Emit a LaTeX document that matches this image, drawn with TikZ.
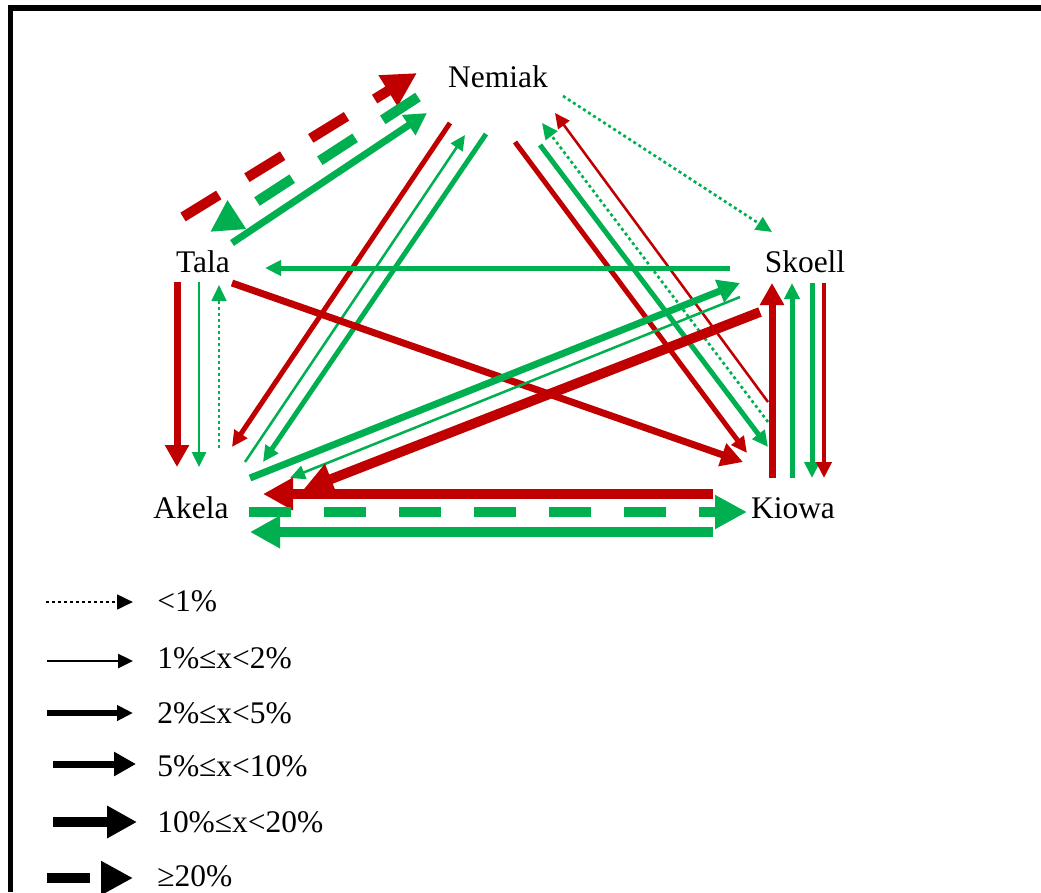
\documentclass[tikz,border=0pt]{standalone}
\usepackage{fontspec}
\setmainfont{Liberation Serif}
\usetikzlibrary{arrows.meta}
\definecolor{rd}{HTML}{C00000}
\definecolor{gn}{HTML}{00B050}
\begin{document}
\begin{tikzpicture}[x=0.75pt,y=-0.75pt,
  lbl/.style={inner sep=0pt, anchor=base, font=\fontsize{23.6pt}{28pt}\selectfont},
  leg/.style={inner sep=0pt, anchor=base west, font=\fontsize{23.6pt}{28pt}\selectfont},
  cdot/.style={line width=2pt, dash pattern=on 2.25pt off 2.25pt, -{Triangle[length=12pt,width=11pt]}},
  cone/.style={line width=1.9pt, -{Triangle[length=11.25pt,width=10.5pt]}},
  ctwo/.style={line width=3.75pt, -{Triangle[length=12pt,width=11.25pt]}},
  cthree/.style={line width=5.25pt, -{Triangle[length=16.5pt,width=17.25pt]}},
  cfour/.style={line width=7.4pt, -{Triangle[length=22.5pt,width=23pt]}},
  cfive/.style={line width=7.6pt, dash pattern=on 31.5pt off 24.75pt, -{Triangle[length=24pt,width=24pt]}},
  frame/.style={line width=4.3pt, black}
]
\useasboundingbox (0,0) rectangle (1041,892);
\draw[frame] (10.5,892) -- (10.5,8) -- (1041,8);

% nodes
\node[lbl] (N) at (498,88) {Nemiak};
\node[lbl] (T) at (203,272) {Tala};
\node[lbl] (S) at (805,272) {Skoell};
\node[lbl] (A) at (191,518) {Akela};
\node[lbl] (K) at (793,518) {Kiowa};

% Tala - Nemiak
\draw[rd,cfive,-{Triangle[length=25.5pt,width=25.5pt]}] ([shift={(-20,-55)}]T.base) -- ([shift={(-81,-15)}]N.base);
\draw[gn,cfive] ([shift={(-80,9)}]N.base) -- ([shift={(7,-40)}]T.base);
\draw[gn,cthree] ([shift={(29,-29)}]T.base) -- ([shift={(-71,25)}]N.base);
% Nemiak - Akela
\draw[rd,ctwo] ([shift={(-48,35)}]N.base) -- ([shift={(41,-71)}]A.base);
\draw[gn,cone] ([shift={(54,-56)}]A.base) -- ([shift={(-33,47)}]N.base);
\draw[gn,ctwo] ([shift={(-12,46)}]N.base) -- ([shift={(72,-56)}]A.base);
% Nemiak - Skoell
\draw[gn,cdot] ([shift={(65,8)}]N.base) -- ([shift={(-33,-40)}]S.base);
% Nemiak - Kiowa
\draw[rd,ctwo] ([shift={(17,54)}]N.base) -- ([shift={(-46,-65)}]K.base);
\draw[gn,ctwo] ([shift={(42,57)}]N.base) -- ([shift={(-25,-71)}]K.base);
\draw[gn,cdot] ([shift={(-25,-96)}]K.base) -- ([shift={(44,35)}]N.base);
\draw[rd,cone] ([shift={(-25,-116)}]K.base) -- ([shift={(57,25)}]N.base);
% Skoell - Kiowa
\draw[rd,cthree] ([shift={(-21,-40)}]K.base) -- ([shift={(-33,11)}]S.base);
\draw[gn,ctwo] ([shift={(-1,-40)}]K.base) -- ([shift={(-13,11)}]S.base);
\draw[gn,ctwo] ([shift={(7,11)}]S.base) -- ([shift={(19,-40)}]K.base);
\draw[rd,ctwo,line width=3pt] ([shift={(19,11)}]S.base) -- ([shift={(31,-40)}]K.base);
% Skoell - Tala
\draw[gn,ctwo] ([shift={(-75,-4)}]S.base) -- ([shift={(62,-4)}]T.base);
% Tala - Kiowa
\draw[rd,cthree] ([shift={(29,11)}]T.base) -- ([shift={(-50,-56)}]K.base);
% Akela - Skoell
\draw[gn,cthree] ([shift={(59,-40)}]A.base) -- ([shift={(-65,11)}]S.base);
\draw[gn,cone] ([shift={(-65,25)}]S.base) -- ([shift={(99,-40)}]A.base);
\draw[rd,cfour] ([shift={(-45,40)}]S.base) -- ([shift={(112,-28)}]A.base);
% Akela - Kiowa
\draw[rd,cfour] ([shift={(-80,-24)}]K.base) -- ([shift={(72,-24)}]A.base);
\draw[gn,cfive] ([shift={(58,-6)}]A.base) -- ([shift={(-46,-6)}]K.base);
\draw[gn,cfour] ([shift={(-80,14)}]K.base) -- ([shift={(59,14)}]A.base);
% Tala - Akela
\draw[rd,cthree] ([shift={(-26,10)}]T.base) -- ([shift={(-14,-51)}]A.base);
\draw[gn,cone] ([shift={(-4,10)}]T.base) -- ([shift={(8,-51)}]A.base);
\draw[gn,cdot] ([shift={(28,-70)}]A.base) -- ([shift={(16,13)}]T.base);

% legend
\node[leg] (L1) at (157,611) {<1\%};
\node[leg] (L2) at (157,668) {1\%≤x<2\%};
\node[leg] (L3) at (157,723) {2\%≤x<5\%};
\node[leg] (L4) at (157,776) {5\%≤x<10\%};
\node[leg] (L5) at (157,832) {10\%≤x<20\%};
\node[leg] (L6) at (157,886) {≥20\%};
\draw[black,cdot] ([shift={(-111,-9)}]L1.base west) -- ([shift={(-24,-9)}]L1.base west);
\draw[black,cone] ([shift={(-110,-7)}]L2.base west) -- ([shift={(-24,-7)}]L2.base west);
\draw[black,ctwo,line width=4.2pt] ([shift={(-110,-10)}]L3.base west) -- ([shift={(-24,-10)}]L3.base west);
\draw[black,cthree] ([shift={(-104,-12)}]L4.base west) -- ([shift={(-21,-12)}]L4.base west);
\draw[black,cfour,line width=8pt] ([shift={(-104,-10)}]L5.base west) -- ([shift={(-20,-10)}]L5.base west);
\draw[black,cfive,line width=8pt,dash pattern=on 32.25pt off 24pt] ([shift={(-110,-8)}]L6.base west) -- ([shift={(-24,-8)}]L6.base west);
\end{tikzpicture}
\end{document}
